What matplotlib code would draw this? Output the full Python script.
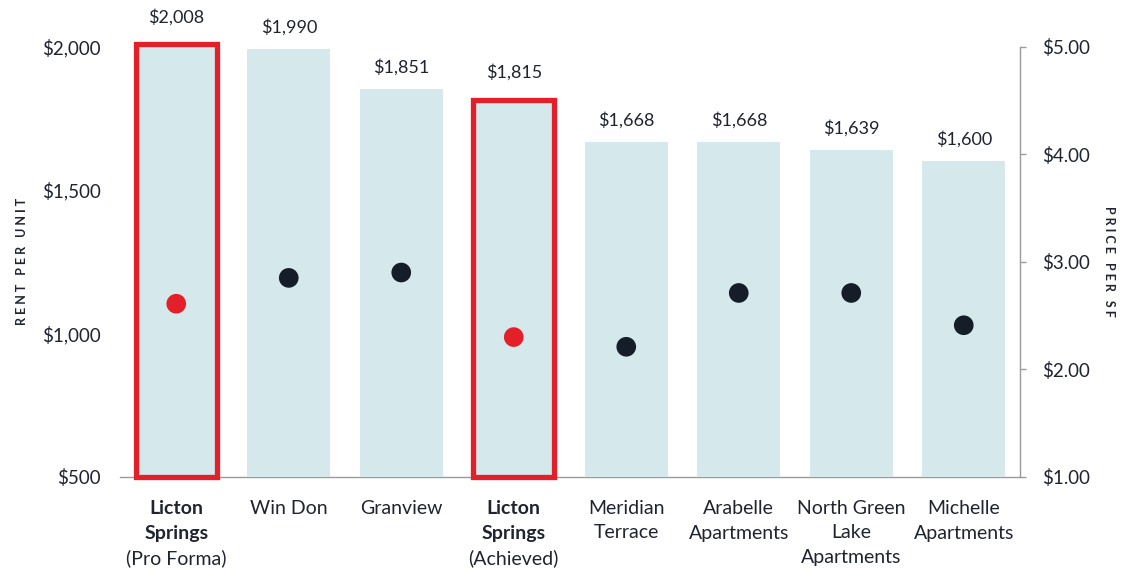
import numpy as np
import matplotlib.pyplot as plt

plt.rcParams['font.family'] = ['Lato', 'DejaVu Sans']

# data
names = ['Licton\nSprings', 'Win Don', 'Granview', 'Licton\nSprings', 'Meridian\nTerrace',
         'Arabelle\nApartments', 'North Green\nLake\nApartments', 'Michelle\nApartments']
notes = ['(Pro Forma)', '', '', '(Achieved)', '', '', '', '']
highlight = [True, False, False, True, False, False, False, False]
rent = [2008, 1990, 1851, 1815, 1668, 1668, 1639, 1600]
psf = [2.61, 2.85, 2.90, 2.30, 2.21, 2.71, 2.71, 2.41]

bar_color = '#d5e8ec'
red = '#e3202a'
navy = '#141d28'
text_c = '#1f2430'
axis_c = '#9a9a9a'

fig = plt.figure(figsize=(11.34, 5.71), dpi=100)
ax = fig.add_axes([120/1134, 1 - 477/571, 900/1134, (477 - 46.5)/571])
x = np.arange(len(rent))

for i in range(len(rent)):
    if highlight[i]:
        ax.bar(x[i], rent[i] - 500, bottom=500, width=0.72, color=bar_color,
               edgecolor=red, linewidth=3.8, clip_on=False, zorder=2)
    else:
        ax.bar(x[i], rent[i] - 500, bottom=500, width=0.74, color=bar_color,
               linewidth=0, clip_on=False, zorder=2)
    off = 27 if highlight[i] else 22
    ax.annotate('${:,}'.format(rent[i]), (x[i], rent[i]), xytext=(0, off),
                textcoords='offset pixels', ha='center', va='center',
                fontsize=13, color=text_c, annotation_clip=False)
    # category labels
    lines = names[i].split('\n')
    for j, ln in enumerate(lines):
        ax.annotate(ln, (x[i], 0), xycoords=('data', 'axes fraction'),
                    xytext=(0, -31 - 25*j), textcoords='offset pixels',
                    ha='center', va='center', fontsize=14, color=text_c,
                    fontweight='bold' if highlight[i] else 'normal',
                    annotation_clip=False)
    if notes[i]:
        ax.annotate(notes[i], (x[i], 0), xycoords=('data', 'axes fraction'),
                    xytext=(0, -31 - 25*len(lines)), textcoords='offset pixels',
                    ha='center', va='center', fontsize=14, color=text_c,
                    annotation_clip=False)

ax.set_xlim(-0.5, 7.5)
ax.set_ylim(500, 2000)
ax.set_xticks([])
ax.set_yticks([500, 1000, 1500, 2000])
ax.set_yticklabels(['${:,}'.format(v) for v in [500, 1000, 1500, 2000]])
ax.tick_params(axis='y', length=0, pad=14, labelsize=13.5, labelcolor=text_c)
for s in ['top', 'left', 'right']:
    ax.spines[s].set_visible(False)
ax.spines['bottom'].set_color(axis_c)
ax.spines['bottom'].set_linewidth(1)
ax.spines['bottom'].set_zorder(1)
ax.set_ylabel('R E N T   P E R   U N I T', fontsize=9, fontweight='bold',
              color=text_c)
ax.yaxis.set_label_coords(-92/900, 0.5)

ax2 = ax.twinx()
ax2.set_ylim(1, 5)
ax2.set_yticks([1, 2, 3, 4, 5])
ax2.set_yticklabels(['${:.2f}'.format(v) for v in [1, 2, 3, 4, 5]])
ax2.tick_params(axis='y', length=4, width=1, color=axis_c, pad=12,
                labelsize=13.5, labelcolor=text_c)
for s in ['top', 'left', 'bottom']:
    ax2.spines[s].set_visible(False)
ax2.spines['right'].set_color(axis_c)
ax2.spines['right'].set_linewidth(1)
dot_colors = [red if h else navy for h in highlight]
ax2.scatter(x, psf, s=200, c=dot_colors, zorder=5, linewidths=0)
ax2.set_ylabel('P R I C E   P E R   S F', fontsize=9, fontweight='bold',
               color=text_c, rotation=-90)
ax2.yaxis.set_label_coords(1 + 95/900, 0.5)

fig.savefig('out.png', dpi=100)
